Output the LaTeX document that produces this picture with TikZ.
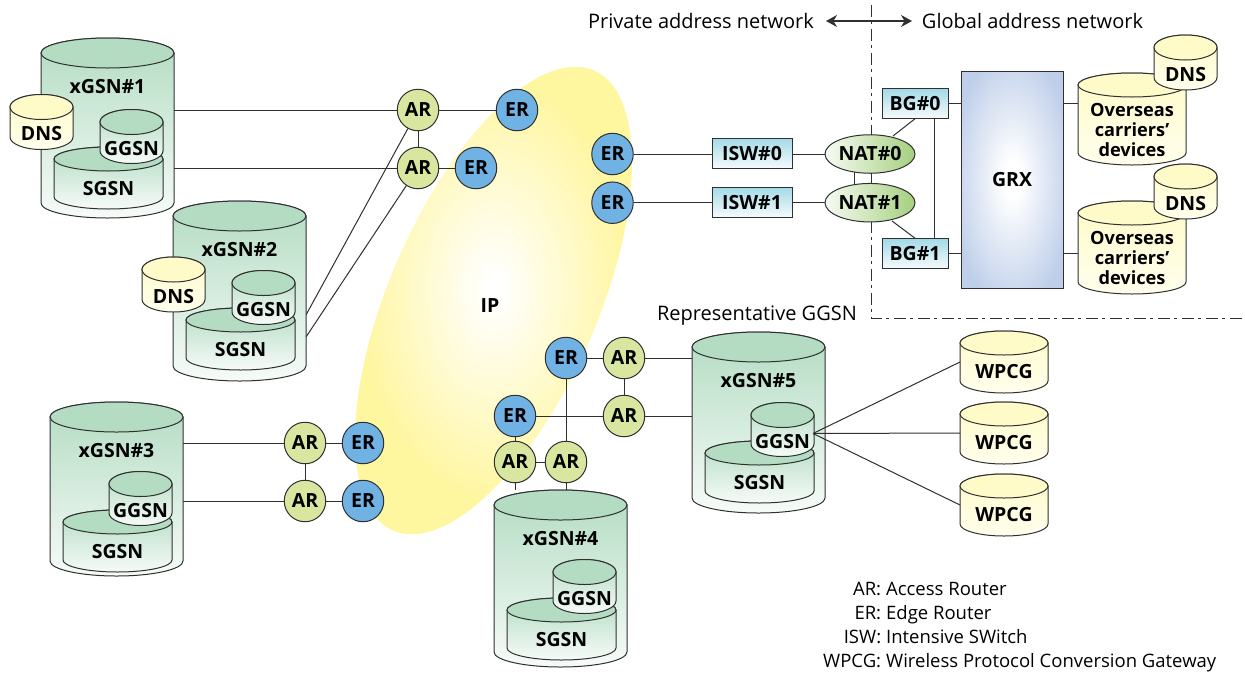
\documentclass[tikz,border=0pt]{standalone}
\usepackage{fontspec}
\setmainfont{Open Sans}
\usetikzlibrary{backgrounds,shapes.geometric,arrows.meta}
\definecolor{linec}{HTML}{303030}
\definecolor{greentop}{HTML}{B3DCC2}
\definecolor{greenbot}{HTML}{F6FBF8}
\definecolor{creamtop}{HTML}{FFFBC9}
\definecolor{creambot}{HTML}{FFFEEC}
\definecolor{arcol}{HTML}{D9E69F}
\definecolor{ercol}{HTML}{70B2E4}
\definecolor{ipyellow}{HTML}{FFF6A0}
\definecolor{grxblue}{HTML}{BFCFEA}
\definecolor{teal}{HTML}{A3DAE7}
\definecolor{natgreen}{HTML}{A5D07F}
\pgfdeclareradialshading{ipshade}{\pgfpoint{0bp}{0bp}}{color(0bp)=(white); color(1bp)=(white); color(22bp)=(ipyellow); color(50bp)=(ipyellow)}
\pgfdeclareradialshading{grxshade}{\pgfpoint{0bp}{0bp}}{color(0bp)=(white); color(4bp)=(white); color(30bp)=(grxblue); color(50bp)=(grxblue)}
\tikzset{
  x=1pt, y=-1pt,
  outline/.style={draw=linec, line width=1pt},
  link/.style={draw=linec, line width=1pt},
  boundary/.style={draw=linec, line width=1pt, dash pattern=on 11.5pt off 4.5pt on 3pt off 5pt},
  lbl/.style={font=\fontsize{19.5}{22}\selectfont\bfseries, inner sep=0pt, text=black, align=center},
  ovtext/.style={lbl, font=\fontsize{18.2}{20}\selectfont\bfseries},
  plain/.style={font=\fontsize{20}{24}\selectfont, inner sep=0pt, text=black},
  legendtext/.style={font=\fontsize{18.5}{24}\selectfont, inner sep=0pt, text=black},
  greenbody/.style={top color=greentop, bottom color=greenbot},
  greencap/.style={fill=greentop},
  creambody/.style={top color=creamtop, bottom color=creambot},
  creamcap/.style={fill=creamtop},
  router/.style={circle, outline, minimum size=41.5pt, inner sep=0pt, lbl},
  arnode/.style={router, fill=arcol},
  ernode/.style={router, fill=ercol},
  swbox/.style={rectangle, outline, lbl, top color=teal, bottom color=white!90!teal, minimum width=80pt, minimum height=30pt},
  bgbox/.style={rectangle, outline, lbl, top color=teal, bottom color=white!90!teal, minimum width=66pt, minimum height=29.5pt},
  natnode/.style={ellipse, outline, lbl, left color=white!90!natgreen, right color=natgreen, minimum width=90pt, minimum height=38.5pt},
  anchorbox/.style={rectangle, inner sep=0pt, outer sep=0pt},
}
% name, x0, x1, cy, cyb, ry, body style, cap style
\newcommand{\cyl}[8]{%
  \pgfmathsetmacro\cylrx{((#3)-(#2))/2}%
  \pgfmathsetmacro\cylcx{((#2)+(#3))/2}%
  \pgfmathsetmacro\cylmy{((#4)+(#5))/2}%
  \pgfmathsetmacro\cylw{(#3)-(#2)}%
  \pgfmathsetmacro\cylh{(#5)-(#4)+2*(#6)}%
  \path[outline,#7] (#2,#4) -- (#2,#5) arc[start angle=180,end angle=360,x radius=\cylrx pt,y radius=#6 pt] -- (#3,#4) arc[start angle=0,end angle=180,x radius=\cylrx pt,y radius=#6 pt] -- cycle;
  \path[outline,#8] (\cylcx,#4) ellipse[x radius=\cylrx pt,y radius=#6 pt];
  \node[anchorbox,minimum width=\cylw pt,minimum height=\cylh pt] (#1) at (\cylcx,\cylmy) {};
}
% name, x0 of outer, cy, cyb, label, SGSN offset, GGSN offset
\newcommand{\xgsn}[7]{%
  \cyl{#1}{#2}{#2+133}{#3}{#4}{15}{greenbody}{greencap}
  \node[lbl] (#1-t) at (#2+66.5,#3+33.5) {#5};
  \cyl{#1-s}{#2+13}{#2+122}{#3+#6}{#3+#6+38}{12}{greenbody}{greencap}
  \node[lbl] (#1-st) at (#2+67.5,#3+#6+30) {SGSN};
  \cyl{#1-g}{#2+59}{#2+122}{#3+#7}{#3+#7+29}{12.5}{greenbody}{greencap}
  \node[lbl] (#1-gt) at (#2+90.5,#3+#7+26.5) {GGSN};
}
\newcommand{\dnscyl}[3]{%
  \cyl{#1}{#2}{#2+63}{#3}{#3+30}{12.5}{creambody}{creamcap}
  \node[lbl] (#1-t) at (#2+31.5,#3+27) {DNS};
}
\newcommand{\wpcg}[2]{%
  \cyl{#1}{960}{1048}{#2}{#2+38}{12}{creambody}{creamcap}
  \node[lbl] (#1-t) at (1004,#2+29) {WPCG};
}
\begin{document}
\begin{tikzpicture}
\useasboundingbox (0,0) rectangle (1245,673);
\begin{pgfonlayer}{background}
  \node[ellipse, shading=ipshade, rotate=66.4, minimum width=502pt, minimum height=208pt, inner sep=0pt] (ipcloud) at (493.5,300.5) {};
\end{pgfonlayer}
\node[lbl] (iplabel) at (490,306) {IP};

% server groups
\xgsn{x1}{41}{53}{203}{xGSN\#1}{106}{69}
\dnscyl{dns1}{10}{107}
\xgsn{x2}{173}{216}{366}{xGSN\#2}{104}{67}
\dnscyl{dns2}{142}{269.5}
\xgsn{x3}{50}{417}{561}{xGSN\#3}{105}{67}
\xgsn{x4}{494}{505}{652}{xGSN\#4}{105}{67}
\xgsn{x5}{692}{347}{498}{xGSN\#5}{106}{68}
\wpcg{w1}{343}
\wpcg{w2}{414}
\wpcg{w3}{486}

% routers
\node[arnode] (a1) at (418,110) {AR};
\node[ernode] (e1) at (517,110) {ER};
\node[arnode] (a2) at (418,168) {AR};
\node[ernode] (e2) at (476,168) {ER};
\node[arnode] (a3) at (305,443) {AR};
\node[ernode] (e3) at (363,443) {ER};
\node[arnode] (a4) at (305,501) {AR};
\node[ernode] (e4) at (363,501) {ER};
\node[ernode] (e5) at (566,358) {ER};
\node[arnode] (a5) at (624,358) {AR};
\node[ernode] (e6) at (515,416) {ER};
\node[arnode] (a6) at (624,416) {AR};
\node[arnode] (a7) at (515,462) {AR};
\node[arnode] (a8) at (566,462) {AR};
\node[ernode] (e7) at (612.5,154) {ER};
\node[ernode] (e8) at (612.5,202.7) {ER};

% gateway chain
\node[swbox] (isw0) at (752,153.5) {ISW\#0};
\node[swbox] (isw1) at (752,202.3) {ISW\#1};
\node[natnode] (nat0) at (870,154) {NAT\#0};
\node[natnode] (nat1) at (870,202.7) {NAT\#1};
\node[bgbox] (bg0) at (915,103.5) {BG\#0};
\node[bgbox] (bg1) at (915,253.5) {BG\#1};
\node[rectangle, outline, shading=grxshade, minimum width=102pt, minimum height=217pt, inner sep=0pt] (grx) at (1012,179.5) {};
\node[lbl] (grxlabel) at (1012,180) {GRX};

% overseas carriers
\cyl{ov0}{1078}{1186}{85}{153}{12}{creambody}{creamcap}
\node[ovtext] (ov0t) at (1132,130) {Overseas\\carriers’\\devices};
\dnscyl{dns3}{1154}{47.5}
\cyl{ov1}{1078}{1186}{213}{282}{12}{creambody}{creamcap}
\node[ovtext] (ov1t) at (1132,258) {Overseas\\carriers’\\devices};
\dnscyl{dns4}{1154}{176.5}

% free connector ends
\coordinate (bound-top) at (871,5);
\coordinate (bound-corner) at (871,318);
\coordinate (bound-right) at (1245,318);
\coordinate (arrow-l) at (826,21);
\coordinate (arrow-r) at (912,21);
\coordinate (x2a) at (306,315);
\coordinate (x2b) at (306,337);
\coordinate (g5p) at (813,433.5);
\coordinate (n0u) at (893,136);
\coordinate (n1d) at (892,221);
\coordinate (n0l) at (854,165);
\coordinate (n1l) at (854,190);
\coordinate (bgv0) at (934.5,118);
\coordinate (bgv1) at (934.5,239);

\begin{pgfonlayer}{background}
  \draw[boundary] (bound-top) -- (bound-corner) -- (bound-right);
  \draw[link] (a1) -- (a1 -| x1.east);
  \draw[link] (a2) -- (a2 -| x1.east);
  \draw[link] (a1) -- (e1);
  \draw[link] (a2) -- (e2);
  \draw[link] (a1) -- (a2);
  \draw[link] (a1) -- (x2a);
  \draw[link] (a2) -- (x2b);
  \draw[link] (a3) -- (a3 -| x3.east);
  \draw[link] (a4) -- (a4 -| x3.east);
  \draw[link] (a3) -- (e3);
  \draw[link] (a4) -- (e4);
  \draw[link] (a3) -- (a4);
  \draw[link] (e5) -- (a5);
  \draw[link] (a5) -- (a5 -| x5.west);
  \draw[link] (e6) -- (a6);
  \draw[link] (a6) -- (a6 -| x5.west);
  \draw[link] (a5) -- (a6);
  \draw[link] (e5) -- (a8);
  \draw[link] (e6) -- (a7);
  \draw[link] (a7) -- (a8);
  \draw[link] (a7) -- (a7 |- x4.north);
  \draw[link] (a8) -- (a8 |- x4.north);
  \draw[link] (e7) -- (e7 -| isw0.west);
  \draw[link] (e8) -- (e8 -| isw1.west);
  \draw[link] (nat0 -| isw0.east) -- (nat0);
  \draw[link] (nat1 -| isw1.east) -- (nat1);
  \draw[link] (n0l) -- (n1l);
  \draw[link] (n0u) -- (bg0.south);
  \draw[link] (n1d) -- (bg1.north);
  \draw[link] (bgv0) -- (bgv1);
  \draw[link] (bg0) -- (grx.west |- bg0);
  \draw[link] (bg1) -- (grx.west |- bg1);
  \draw[link] (grx.east |- bg0) -- (ov0.west |- bg0);
  \draw[link] (grx.east |- bg1) -- (ov1.west |- bg1);
\end{pgfonlayer}

% links from the representative GGSN run over its xGSN box
\draw[link] (g5p) -- (w1.west);
\draw[link] (g5p) -- (w2.west);
\draw[link] (g5p) -- (w3.west);

% boundary arrow and captions
\draw[linec, line width=1.3pt, {Stealth[length=11pt,width=12pt]}-{Stealth[length=11pt,width=12pt]}] (arrow-l) -- (arrow-r);
\node[plain] (privlabel) at (701,21) {Private address network};
\node[plain] (globlabel) at (1032.5,21) {Global address network};
\node[plain] (replabel) at (757,316) {Representative GGSN};
\node[legendtext, anchor=north west] (legend) at (823,578) {%
  \begin{tabular}{@{}r@{\hspace{5pt}}l@{}}
  AR: & Access Router\\
  ER: & Edge Router\\
  ISW: & Intensive SWitch\\
  WPCG: & Wireless Protocol Conversion Gateway
  \end{tabular}};
\end{tikzpicture}
\end{document}
